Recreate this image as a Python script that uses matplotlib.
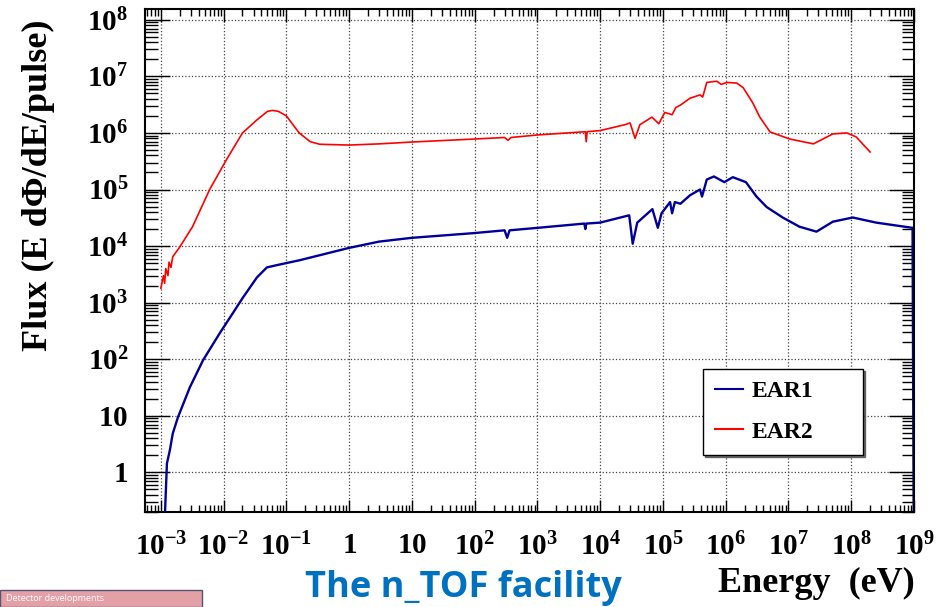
import matplotlib
matplotlib.use("Agg")
import matplotlib.pyplot as plt
from matplotlib.ticker import LogLocator, FixedLocator, NullFormatter
from matplotlib.patches import Rectangle

# EAR1 flux (blue)
ear1_E = [5e-4, 1.05e-3, 1.25e-3, 1.39e-3, 1.55e-3, 1.87e-3, 2.9e-3, 4.7e-3, 8.7e-3,
          1.4e-2, 2e-2, 3.4e-2, 4.9e-2, 7e-2, 1.6e-1, 3.4e-1, 1, 3, 10, 100, 300, 330,
          360, 1e3, 5.6e3, 5.8e3, 6e3, 1e4, 2.9e4, 3.3e4, 3.9e4, 6.8e4, 8.3e4, 9.5e4,
          1.3e5, 1.4e5, 1.55e5, 1.9e5, 2.7e5, 3.9e5, 4.2e5, 5e5, 6.5e5, 9.5e5, 1.3e6,
          2.1e6, 3.1e6, 4.5e6, 8.1e6, 1.5e7, 2.8e7, 5.1e7, 1.06e8, 2.5e8, 9.5e8, 1e9]
ear1_flux = [0.01, 0.01, 1.44, 2.45, 4.9, 9.4, 32, 96, 290,
             650, 1.2e3, 2.8e3, 4.2e3, 4.6e3, 5.6e3, 6.9e3, 9.3e3, 1.2e4, 1.4e4, 1.7e4, 1.9e4, 1.4e4,
             1.9e4, 2.1e4, 2.5e4, 2.0e4, 2.5e4, 2.6e4, 3.5e4, 1.1e4, 2.6e4, 4.5e4, 2.1e4, 3.8e4,
             6e4, 3.8e4, 6e4, 5.6e4, 7.9e4, 1e5, 7.5e4, 1.5e5, 1.7e5, 1.35e5, 1.65e5,
             1.35e5, 7.5e4, 4.9e4, 3.2e4, 2.2e4, 1.8e4, 2.7e4, 3.2e4, 2.6e4, 2.1e4, 0.01]

# EAR2 flux (red)
ear2_E = [1.0e-3, 1.1e-3, 1.15e-3, 1.2e-3, 1.3e-3, 1.35e-3, 1.45e-3, 1.55e-3, 1.7e-3,
          2.0e-3, 3.2e-3, 6e-3, 1.1e-2, 2e-2, 3.4e-2, 5e-2, 6e-2, 7.5e-2, 1e-1, 1.6e-1,
          2.4e-1, 3.4e-1, 1, 3, 10, 100, 300, 340, 380, 1e3, 5.8e3, 6e3, 6.2e3, 1e4,
          2.5e4, 3e4, 3.6e4, 4.3e4, 6.7e4, 8.6e4, 1.07e5, 1.4e5, 1.6e5, 1.9e5, 2.7e5,
          3.9e5, 4.3e5, 5e5, 7.2e5, 8.5e5, 1.05e6, 1.5e6, 1.9e6, 2.7e6, 3.5e6, 5.1e6,
          1.05e7, 2.5e7, 5.1e7, 8.5e7, 1.2e8, 2e8]
ear2_flux = [1.8e3, 3.0e3, 2.2e3, 4.0e3, 3.0e3, 5.2e3, 4.2e3, 6.5e3, 7.5e3,
             9.6e3, 2.2e4, 1e5, 3.3e5, 1e6, 1.7e6, 2.4e6, 2.5e6, 2.4e6, 2.0e6, 1.0e6,
             7e5, 6.3e5, 6.1e5, 6.4e5, 6.9e5, 7.8e5, 8.3e5, 7.4e5, 8.3e5, 9.2e5, 1.05e6, 7e5, 1.05e6, 1.1e6,
             1.4e6, 1.5e6, 8e5, 1.4e6, 1.9e6, 1.45e6, 2.3e6, 2.1e6, 2.8e6, 3.1e6, 4.1e6,
             4.7e6, 4.3e6, 7.8e6, 8.2e6, 7.2e6, 7.8e6, 7.6e6, 6.3e6, 3.4e6, 1.9e6, 1.04e6,
             7.8e5, 6.4e5, 9.6e5, 1e6, 8.5e5, 4.6e5]

x_ticks = [1e-3, 1e-2, 1e-1, 1, 10, 1e2, 1e3, 1e4, 1e5, 1e6, 1e7, 1e8, 1e9]
x_labels = ['$10^{-3}$', '$10^{-2}$', '$10^{-1}$', '$1$', '$10$', '$10^{2}$', '$10^{3}$',
            '$10^{4}$', '$10^{5}$', '$10^{6}$', '$10^{7}$', '$10^{8}$', '$10^{9}$']
y_ticks = [1, 10, 1e2, 1e3, 1e4, 1e5, 1e6, 1e7, 1e8]
y_labels = ['$1$', '$10$', '$10^{2}$', '$10^{3}$', '$10^{4}$', '$10^{5}$', '$10^{6}$',
            '$10^{7}$', '$10^{8}$']

plt.rcParams['font.family'] = ['Liberation Serif', 'DejaVu Serif']
plt.rcParams['mathtext.fontset'] = 'custom'
plt.rcParams['mathtext.rm'] = 'Liberation Serif:bold'
plt.rcParams['mathtext.it'] = 'Liberation Serif:bold'
plt.rcParams['mathtext.bf'] = 'Liberation Serif:bold'

fig = plt.figure(figsize=(9.43, 6.07), dpi=100)
ax = fig.add_axes([0.1538, 0.1565, 0.8154, 0.8287])

ax.plot(ear1_E, ear1_flux, color='#000099', lw=1.7, label='EAR1')
ax.plot(ear2_E, ear2_flux, color='#ff0000', lw=1.2, label='EAR2')

ax.set_xscale('log')
ax.set_yscale('log')
ax.set_xlim(5.6e-4, 1e9)
ax.set_ylim(0.2, 10 ** 8.19)

ax.xaxis.set_major_locator(FixedLocator(x_ticks))
ax.set_xticklabels(x_labels)
ax.xaxis.set_minor_locator(LogLocator(base=10, subs=range(2, 10), numticks=30))
ax.xaxis.set_minor_formatter(NullFormatter())
ax.yaxis.set_major_locator(FixedLocator(y_ticks))
ax.set_yticklabels(y_labels)
ax.yaxis.set_minor_locator(LogLocator(base=10, subs=range(2, 10), numticks=30))
ax.yaxis.set_minor_formatter(NullFormatter())

ax.tick_params(axis='x', which='both', direction='in', top=True, bottom=True, width=1.0)
ax.tick_params(axis='x', which='major', length=9, pad=15, labelsize=21)
ax.tick_params(axis='x', which='minor', length=5)
ax.tick_params(axis='y', which='both', direction='in', left=True, right=True, width=1.0)
ax.tick_params(axis='y', which='major', length=18, pad=12, labelsize=21)
ax.tick_params(axis='y', which='minor', length=9)

for s in ax.spines.values():
    s.set_linewidth(1.5)

ax.grid(True, which='major', linestyle=':', color='#444444', lw=0.9)

fig.text(0.041, 0.694, 'Flux (E d\u03a6/dE/pulse)', rotation=90, ha='center', va='center',
         fontsize=26, fontweight='bold')

leg = ax.legend(loc='upper left', bbox_to_anchor=(0.7256, 0.1173, 0.208, 0.167),
                mode='expand', prop={'weight': 'bold', 'size': 17}, fancybox=False,
                framealpha=1, edgecolor='black', handlelength=1.2, handletextpad=0.35,
                labelspacing=0.8, borderpad=0.5, borderaxespad=0,
                shadow={'ox': 1.5, 'oy': -1.5, 'alpha': 0.8})
leg.get_frame().set_linewidth(1.0)
for line in leg.get_lines():
    line.set_linewidth(1.5)

fig.text(0.970, 0.025, 'Energy  (eV)', ha='right', va='baseline', fontsize=26, fontweight='bold')
fig.text(0.491, 0.0165, 'The n_TOF facility', ha='center', va='baseline', fontsize=26,
         fontweight='bold', color='#0070C0', family=['Open Sans', 'DejaVu Sans'])

fig.patches.append(Rectangle((0, 0), 0.214, 0.028, transform=fig.transFigure,
                             facecolor='#E3A0A6', edgecolor='#555577', lw=1.0))
fig.text(0.006, 0.014, 'Detector developments', ha='left', va='center', fontsize=6.5,
         color='white', family=['Open Sans', 'DejaVu Sans'])

fig.savefig('out.png', dpi=100)
